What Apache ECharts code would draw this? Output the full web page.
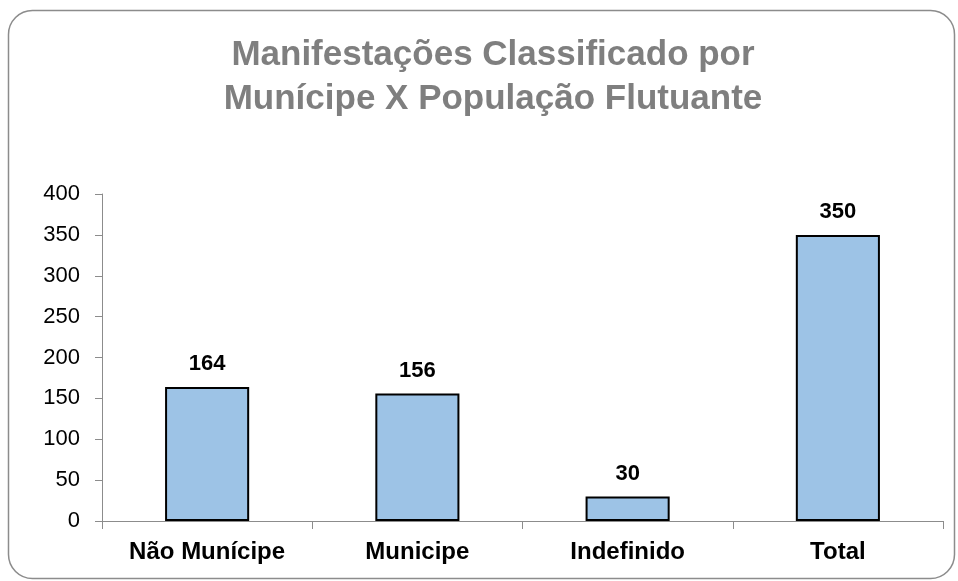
<!DOCTYPE html>
<html>
<head>
<meta charset="utf-8">
<script src="https://cdn.jsdelivr.net/npm/echarts@6/dist/echarts.min.js"></script>
<style>
  html, body { margin: 0; padding: 0; background: #fff; }
  #main { width: 958px; height: 581px; }
</style>
</head>
<body>
<div id="main"></div>
<script>
// dados do gráfico
var categorias = ['Não Munícipe', 'Municipe', 'Indefinido', 'Total'];
var valores = [164, 156, 30, 350];
var eixoY = { min: 0, max: 400, intervalo: 50 };

var myChart = echarts.init(document.getElementById('main'));
var option = {
    backgroundColor: '#fff',
    animation: false,
    graphic: [{
        type: 'rect',
        shape: { x: 8.5, y: 10.5, width: 946, height: 568, r: 24 },
        style: { fill: 'none', stroke: '#8c8c8c', lineWidth: 1.5 },
        silent: true
    }],
    title: {
        text: 'Manifestações Classificado por\nMunícipe X População Flutuante',
        left: 488,
        textAlign: 'center',
        top: 28,
        textStyle: {
            fontFamily: 'Liberation Sans',
            fontWeight: 'bold',
            fontSize: 35,
            lineHeight: 44,
            color: '#7f7f7f'
        }
    },
    grid: { left: 102, right: 15, top: 194, bottom: 60, containLabel: false },
    xAxis: {
        type: 'category',
        data: categorias,
        axisLine: { lineStyle: { color: '#8c8c8c', width: 1 } },
        axisTick: { show: true, length: 8, lineStyle: { color: '#8c8c8c' } },
        axisLabel: {
            fontFamily: 'Liberation Sans',
            fontWeight: 'bold',
            fontSize: 24,
            color: '#000',
            margin: 19
        }
    },
    yAxis: {
        type: 'value',
        min: eixoY.min,
        max: eixoY.max,
        interval: eixoY.intervalo,
        axisLine: { show: true, lineStyle: { color: '#8c8c8c', width: 1 } },
        axisTick: { show: true, length: 7, lineStyle: { color: '#8c8c8c' } },
        splitLine: { show: false },
        axisLabel: {
            fontFamily: 'Liberation Sans',
            fontSize: 22,
            color: '#000',
            margin: 22
        }
    },
    series: [{
        type: 'bar',
        data: valores,
        barWidth: '40%',
        itemStyle: { color: '#9dc3e6', borderColor: '#000', borderWidth: 2 },
        label: {
            show: true,
            position: 'top',
            distance: 12,
            fontFamily: 'Liberation Sans',
            fontWeight: 'bold',
            fontSize: 22,
            color: '#000'
        }
    }]
};
myChart.setOption(option);
</script>
</body>
</html>
